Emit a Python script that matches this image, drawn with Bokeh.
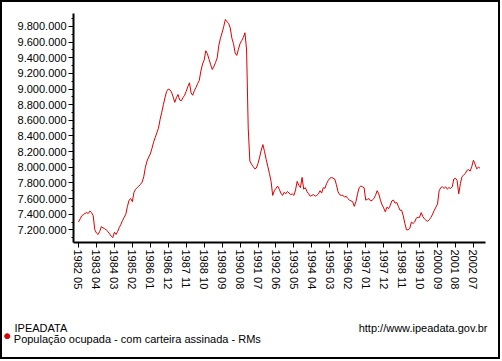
from bokeh.plotting import figure
from bokeh.layouts import column
from bokeh.models import FixedTicker, Label, Range1d
from bokeh.embed import file_html
from bokeh.resources import INLINE

# ---- data (thousands of persons, monthly from 1982 05) ----
start_year = 1982
start_month = 5
values_k = [
    7300, 7340, 7380, 7395, 7410, 7420, 7410, 7440, 7420, 7380,
    7200, 7160, 7140, 7180, 7240, 7225, 7215, 7200, 7180, 7150,
    7120, 7100, 7170, 7140, 7180, 7230, 7270, 7320, 7360, 7400,
    7500, 7580, 7600, 7560, 7680, 7720, 7740, 7760, 7780, 7810,
    7880, 8000, 8080, 8130, 8170, 8240, 8320, 8380, 8440, 8500,
    8610, 8700, 8800, 8890, 8970, 9000, 8990, 8960, 8900, 8830,
    8890, 8930, 8860, 8850, 8890, 8920, 8970, 9030, 9080, 8950,
    8920, 8980, 9020, 9070, 9110, 9230, 9320, 9370, 9490, 9450,
    9380, 9310, 9250, 9290, 9340, 9400, 9560, 9650, 9720, 9800,
    9890, 9860, 9840, 9780, 9650, 9580, 9460, 9430, 9510, 9580,
    9620, 9660, 9720, 9500, 8500, 8080, 8040, 8010, 7980, 7990,
    8050, 8130, 8220, 8290, 8200, 8100, 8010, 7920, 7820, 7640,
    7700, 7730, 7760, 7720, 7670, 7640, 7680, 7660, 7690, 7670,
    7650, 7660, 7640, 7710, 7820, 7770, 7740, 7870, 7720, 7740,
    7690, 7660, 7630, 7640, 7650, 7630, 7640, 7660, 7700, 7670,
    7740, 7730, 7790, 7830, 7860, 7870, 7860, 7850, 7780, 7690,
    7650, 7640, 7640, 7620, 7630, 7600, 7580, 7570, 7560, 7500,
    7560, 7660, 7740, 7760, 7750, 7740, 7580, 7590, 7600, 7570,
    7580, 7600, 7640, 7700, 7660, 7580, 7520, 7480, 7430, 7490,
    7470, 7510, 7570, 7580, 7540, 7550, 7500, 7450, 7450, 7380,
    7280, 7200, 7200, 7220, 7300, 7280, 7300, 7350, 7360, 7360,
    7420, 7370, 7340, 7320, 7310, 7330, 7360, 7400, 7450, 7490,
    7530, 7700, 7740, 7750, 7730, 7750, 7720, 7740, 7730, 7750,
    7850, 7860, 7830, 7660, 7790, 7880, 7900, 7920, 7960, 7970,
    7950, 8010, 8090, 8040, 7980, 8000, 7990,
]
values = [v * 1000 for v in values_k]
month_index = list(range(len(values)))
month_labels = [
    f"{start_year + (start_month - 1 + i) // 12} {(start_month - 1 + i) % 12 + 1:02d}"
    for i in month_index
]
x_tick_step = 11
x_ticks = month_index[::x_tick_step]
x_tick_labels = month_labels[::x_tick_step]
y_ticks = list(range(7200000, 9800001, 200000))
y_minor_ticks = list(range(7100000, 9900001, 100000))
y_tick_labels = [f"{v:,}".replace(",", ".") for v in y_ticks]

source_label = "IPEADATA"
series_label = "População ocupada - com carteira assinada - RMs"
url_label = "http://www.ipeadata.gov.br"

FONT = "Liberation Sans"
LINE_RED = "#dd0000"

# ---- main chart ----
p = figure(
    width=496, height=298,
    frame_width=412, frame_height=229,
    min_border_left=71, min_border_top=11, min_border_right=13, min_border_bottom=58,
    x_range=(-3.06, 249.4), y_range=(7038000, 9966000),
    output_backend="svg", toolbar_location=None, tools="",
)
p.background_fill_color = "white"
p.border_fill_color = "white"
p.outline_line_color = None
p.grid.grid_line_color = None

p.line(month_index, values, line_color=LINE_RED, line_width=1)

xa = p.xaxis[0]
xa.ticker = FixedTicker(ticks=x_ticks, minor_ticks=[])
xa.major_label_overrides = {t: l for t, l in zip(x_ticks, x_tick_labels)}
xa.major_label_orientation = "vertical"
xa.axis_line_width = 2
xa.axis_line_color = "black"
xa.major_tick_in = 0
xa.major_tick_out = 5
xa.minor_tick_line_color = None
xa.major_label_standoff = 2
xa.major_label_text_font = FONT
xa.major_label_text_font_size = "11px"
xa.major_label_text_color = "black"

ya = p.yaxis[0]
ya.ticker = FixedTicker(ticks=y_ticks, minor_ticks=y_minor_ticks)
ya.major_label_overrides = {t: l for t, l in zip(y_ticks, y_tick_labels)}
ya.axis_line_width = 2
ya.axis_line_color = "black"
ya.major_tick_in = 0
ya.major_tick_out = 5
ya.minor_tick_in = 0
ya.minor_tick_out = 2
ya.major_label_standoff = 2
ya.major_label_text_font = FONT
ya.major_label_text_font_size = "11px"
ya.major_label_text_color = "black"

# ---- footer (source + series key) ----
f = figure(
    width=496, height=57, frame_width=496, frame_height=57,
    min_border=0, x_range=Range1d(0, 496), y_range=Range1d(57, 0),
    x_axis_type=None, y_axis_type=None,
    output_backend="svg", toolbar_location=None, tools="",
)
f.background_fill_color = "white"
f.border_fill_color = "white"
f.outline_line_color = None
f.grid.grid_line_color = None

common = dict(text_font=FONT, text_font_size="11px", text_color="black",
              text_baseline="middle")
f.add_layout(Label(x=12, y=27.2, text=source_label, text_align="left", **common))
f.add_layout(Label(x=485, y=27.2, text=url_label, text_align="right", **common))
f.add_layout(Label(x=11.3, y=38.6, text=series_label, text_align="left", **common))
f.scatter([4.7], [35.7], marker="circle", size=5, fill_color=LINE_RED, line_color=LINE_RED)

footer = column(f, spacing=0)
layout = column(p, footer, spacing=0, styles={"border": "2px solid black"})

open("out.html", "w").write(file_html(layout, INLINE))
